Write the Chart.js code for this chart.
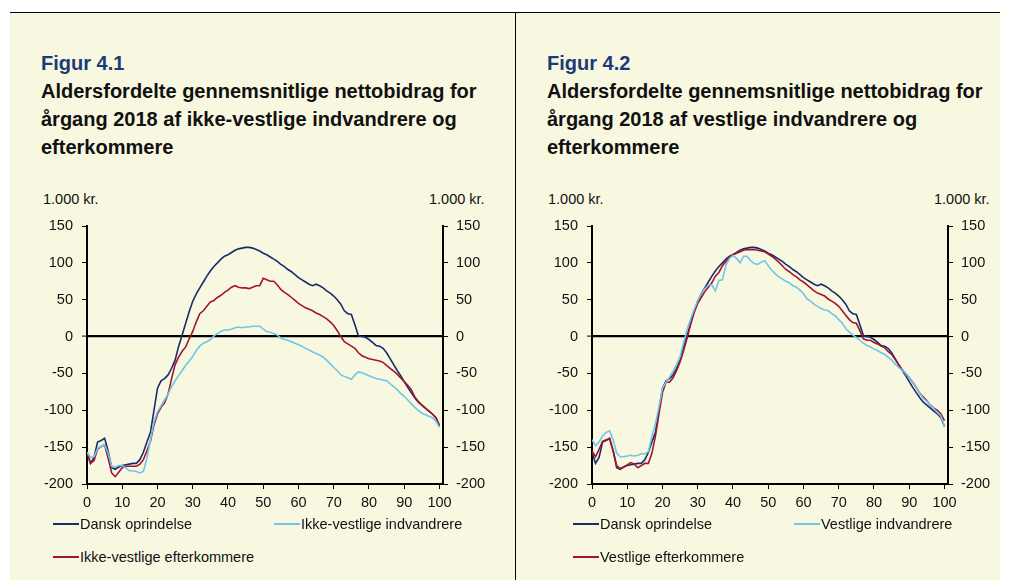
<!DOCTYPE html>
<html>
<head>
<meta charset="utf-8">
<script src="https://cdn.jsdelivr.net/npm/chart.js@4"></script>
<style>
  body { margin: 0; background: #ffffff; font-family: Arial, "Liberation Sans", sans-serif; }
  #page { position: relative; width: 1011px; height: 580px; overflow: hidden; }
  .panel-bg { position: absolute; left: 10px; top: 12px; width: 990px; height: 568px; background: #f8f8e1; border-top: 1px solid #000; }
  .divider { position: absolute; left: 515px; top: 12px; width: 1px; height: 568px; background: #000; }
  .title { position: absolute; top: 49px; font-weight: bold; font-size: 20px; line-height: 28px; color: #111; white-space: nowrap; }
  .title .fig { color: #1c3a78; }
  .unit { position: absolute; top: 191px; font-size: 14.5px; line-height: 16px; color: #111; white-space: nowrap; }
  .leg { position: absolute; font-size: 14.5px; line-height: 16px; color: #111; white-space: nowrap; }
  .leg span { display: inline-block; width: 26px; height: 2px; vertical-align: middle; margin-right: 1px; position: relative; top: -1px; }
  canvas { position: absolute; top: 190px; }
</style>
</head>
<body>
<div id="page">
  <div class="panel-bg"></div>
  <div class="divider"></div>

  <div class="title" style="left:41px"><span class="fig">Figur 4.1</span><br>Aldersfordelte gennemsnitlige nettobidrag for<br>årgang 2018 af ikke-vestlige indvandrere og<br>efterkommere</div>
  <div class="title" style="left:547px"><span class="fig">Figur 4.2</span><br>Aldersfordelte gennemsnitlige nettobidrag for<br>årgang 2018 af vestlige indvandrere og<br>efterkommere</div>

  <div class="unit" style="left:43px">1.000 kr.</div>
  <div class="unit" style="left:429px">1.000 kr.</div>
  <div class="unit" style="left:548px">1.000 kr.</div>
  <div class="unit" style="left:934px">1.000 kr.</div>

  <canvas id="chartLeft" width="515" height="330" style="left:0px"></canvas>
  <canvas id="chartRight" width="495" height="330" style="left:516px"></canvas>

  <div class="leg" style="left:53px; top:516px"><span style="background:#172c6c"></span>Dansk oprindelse</div>
  <div class="leg" style="left:274px; top:516px"><span style="background:#70c6ea"></span>Ikke-vestlige indvandrere</div>
  <div class="leg" style="left:53px; top:549px"><span style="background:#a3142f"></span>Ikke-vestlige efterkommere</div>

  <div class="leg" style="left:573px; top:516px"><span style="background:#172c6c"></span>Dansk oprindelse</div>
  <div class="leg" style="left:794px; top:516px"><span style="background:#70c6ea"></span>Vestlige indvandrere</div>
  <div class="leg" style="left:573px; top:549px"><span style="background:#a3142f"></span>Vestlige efterkommere</div>
</div>

<script>
// alder 0-100
const alder = [];
for (let a = 0; a <= 100; a++) alder.push(a);

const yTicks = [-200, -150, -100, -50, 0, 50, 100, 150];
const xTicks = [0, 10, 20, 30, 40, 50, 60, 70, 80, 90, 100];

// 1.000 kr. pr. alder
const danskOprindelse = [
  -157, -172, -164, -143, -141, -138, -155, -178, -180, -177,
  -175, -174, -173, -172, -172, -167, -157, -143, -130, -100,
  -70, -60, -57, -52, -43, -32, -13, 2, 18, 34,
  48, 58, 66, 74, 82, 89, 95, 100, 105, 109,
  111, 114, 117, 119, 120, 121, 121, 120, 118, 116,
  113, 111, 108, 105, 102, 98, 95, 91, 88, 84,
  80, 77, 74, 71, 69, 71, 69, 66, 62, 59,
  55, 50, 44, 35, 31, 30, 16, 1, 0, -1,
  -4, -8, -12, -13, -16, -22, -30, -38, -46, -53,
  -61, -69, -76, -83, -89, -93, -97, -101, -105, -110,
  -122
];

const ikkeVestligeIndvandrere = [
  -157, -164, -163, -152, -149, -147, -158, -176, -177, -175,
  -175, -178, -182, -182, -183, -185, -183, -165, -140, -116,
  -102, -94, -86, -78, -68, -60, -53, -46, -39, -33,
  -27, -19, -13, -9, -7, -4, 1, 4, 7, 9,
  9, 10, 12, 13, 12, 13, 13, 14, 14, 14,
  10, 7, 6, 4, 2, -2, -4, -5, -7, -9,
  -11, -13, -16, -18, -21, -23, -25, -28, -32, -37,
  -42, -46, -52, -54, -56, -58, -52, -48, -49, -51,
  -53, -55, -57, -58, -59, -60, -64, -68, -72, -77,
  -81, -86, -91, -96, -100, -104, -106, -108, -110, -115,
  -123
];

const ikkeVestligeEfterkommere = [
  -157, -172, -168, -153, -149, -147, -165, -185, -190, -184,
  -178, -176, -176, -176, -176, -173, -167, -155, -142, -120,
  -105, -96, -90, -78, -57, -38, -28, -20, -14, -3,
  7, 20, 31, 35, 41, 47, 49, 53, 56, 60,
  63, 67, 69, 67, 66, 66, 65, 67, 69, 69,
  79, 77, 75, 75, 70, 64, 60, 57, 53, 49,
  45, 42, 39, 37, 35, 32, 30, 27, 24, 20,
  15, 8, 0, -7, -10, -13, -16, -22, -26, -28,
  -30, -31, -32, -33, -35, -39, -43, -47, -51, -56,
  -61, -66, -72, -82, -88, -93, -97, -101, -105, -110,
  -120
];

const vestligeIndvandrere = [
  -140, -148, -143, -135, -130, -128, -140, -158, -163, -163,
  -162, -161, -162, -161, -159, -159, -156, -135, -118, -95,
  -70, -62, -55, -47, -38, -27, -8, 10, 24, 37,
  49, 58, 65, 70, 70, 62, 76, 77, 97, 106,
  110, 106, 100, 109, 109, 103, 99, 98, 101, 103,
  96, 90, 85, 81, 78, 75, 73, 69, 67, 63,
  58, 51, 48, 44, 41, 38, 36, 35, 31, 28,
  23, 18, 11, 6, 2, -1, -5, -9, -12, -14,
  -17, -19, -22, -24, -28, -32, -37, -42, -46, -50,
  -56, -62, -69, -77, -84, -88, -93, -98, -103, -108,
  -122
];

const vestligeEfterkommere = [
  -155, -163, -153, -142, -140, -139, -155, -175, -179, -177,
  -174, -171, -173, -178, -175, -172, -172, -158, -135, -105,
  -76, -62, -62, -56, -46, -34, -19, -2, 17, 33,
  45, 53, 61, 67, 73, 82, 87, 96, 102, 108,
  111, 113, 115, 117, 118, 118, 118, 117, 116, 115,
  112, 109, 105, 101, 96, 91, 88, 84, 81, 77,
  74, 70, 66, 62, 59, 57, 55, 51, 48, 45,
  41, 35, 29, 23, 19, 18, 8, -3, -5, -5,
  -8, -10, -13, -15, -20, -24, -31, -38, -45, -50,
  -56, -62, -69, -77, -82, -87, -93, -97, -100, -105,
  -114
];

const farveDansk = "#172c6c";
const farveIndv = "#70c6ea";
const farveEfterk = "#a3142f";

function punkter(vaerdier) {
  return alder.map((a, i) => ({ x: a, y: vaerdier[i] }));
}

function lavGraf(id, serier, venstreBredde, hoejreBredde) {
  const font = { family: "Arial, 'Liberation Sans', sans-serif", size: 14.5 };
  new Chart(document.getElementById(id), {
    type: "line",
    data: {
      datasets: serier.map(s => ({
        label: s.navn,
        data: punkter(s.data),
        borderColor: s.farve,
        borderWidth: 1.6,
        pointRadius: 0,
        tension: 0,
        fill: false,
      })),
    },
    options: {
      responsive: false,
      animation: false,
      layout: { padding: { top: 36, left: 0, right: 0, bottom: 0 } },
      plugins: { legend: { display: false }, tooltip: { enabled: false } },
      scales: {
        x: {
          type: "linear",
          min: 0,
          max: 101,
          afterBuildTicks: scale => { scale.ticks = xTicks.map(v => ({ value: v })); },
          afterFit: scale => { scale.height = 36; },
          ticks: { color: "#111", font: font, padding: 5, maxRotation: 0 },
          grid: { drawOnChartArea: false, tickLength: 5, color: "#000" },
          border: { display: true, color: "#000", width: 2 },
        },
        y: {
          position: "left",
          min: -200,
          max: 150,
          afterBuildTicks: scale => { scale.ticks = yTicks.map(v => ({ value: v })); },
          afterFit: scale => { scale.width = venstreBredde; },
          ticks: { color: "#111", font: font, padding: 9 },
          grid: {
            drawOnChartArea: true,
            tickLength: 5,
            color: ctx => (ctx.tick && ctx.tick.value === 0 ? "#000" : "rgba(0,0,0,0)"),
            lineWidth: ctx => (ctx.tick && ctx.tick.value === 0 ? 2.2 : 1),
            tickColor: "#000",
            tickWidth: 1,
          },
          border: { display: true, color: "#000", width: 2 },
        },
        y1: {
          position: "right",
          min: -200,
          max: 150,
          afterBuildTicks: scale => { scale.ticks = yTicks.map(v => ({ value: v })); },
          afterFit: scale => { scale.width = hoejreBredde; },
          ticks: { color: "#111", font: font, padding: 8 },
          grid: { drawOnChartArea: false, tickLength: 5, color: "#000" },
          border: { display: true, color: "#000", width: 2 },
        },
      },
    },
  });
}

lavGraf("chartLeft", [
  { navn: "Ikke-vestlige indvandrere", data: ikkeVestligeIndvandrere, farve: farveIndv },
  { navn: "Ikke-vestlige efterkommere", data: ikkeVestligeEfterkommere, farve: farveEfterk },
  { navn: "Dansk oprindelse", data: danskOprindelse, farve: farveDansk },
], 87, 72);

lavGraf("chartRight", [
  { navn: "Vestlige indvandrere", data: vestligeIndvandrere, farve: farveIndv },
  { navn: "Vestlige efterkommere", data: vestligeEfterkommere, farve: farveEfterk },
  { navn: "Dansk oprindelse", data: danskOprindelse, farve: farveDansk },
], 76, 63);
</script>
</body>
</html>
